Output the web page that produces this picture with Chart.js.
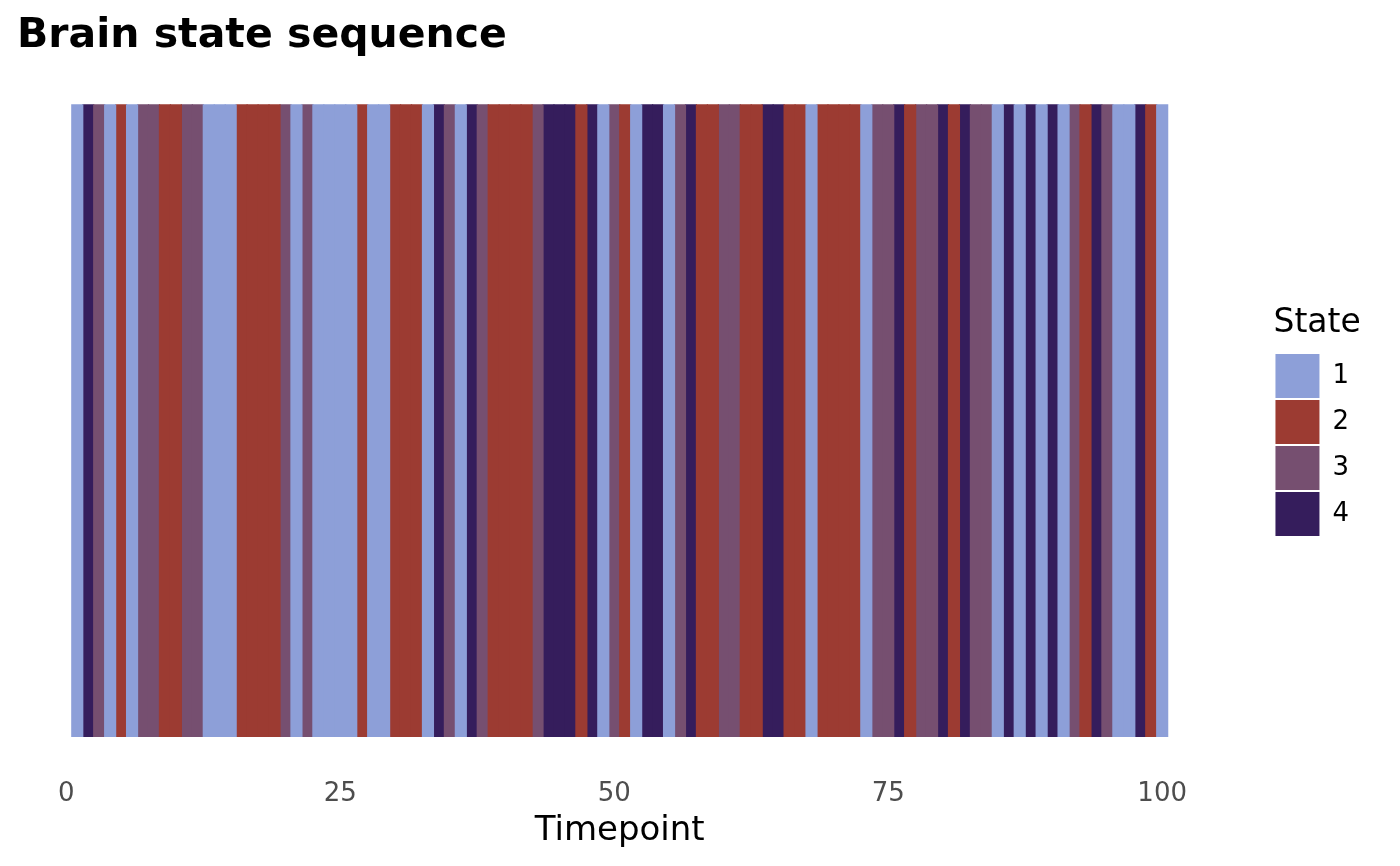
<!DOCTYPE html>
<html>
<head>
<meta charset="utf-8">
<title>Brain state sequence</title>
<script src="https://cdn.jsdelivr.net/npm/chart.js@4/dist/chart.umd.min.js"></script>
<style>
    html, body { margin: 0; padding: 0; background: #ffffff; }
    #wrap { width: 1400px; height: 866px; }
</style>
</head>
<body>
<div id="wrap"><canvas id="chart"></canvas></div>
<script>
// timepoints on the x axis
const timepoints = [
    1, 2, 3, 4, 5, 6, 7, 8, 9, 10, 11, 12, 13, 14, 15, 16, 17, 18, 19, 20,
    21, 22, 23, 24, 25, 26, 27, 28, 29, 30, 31, 32, 33, 34, 35, 36, 37, 38, 39, 40,
    41, 42, 43, 44, 45, 46, 47, 48, 49, 50, 51, 52, 53, 54, 55, 56, 57, 58, 59, 60,
    61, 62, 63, 64, 65, 66, 67, 68, 69, 70, 71, 72, 73, 74, 75, 76, 77, 78, 79, 80,
    81, 82, 83, 84, 85, 86, 87, 88, 89, 90, 91, 92, 93, 94, 95, 96, 97, 98, 99, 100
];

// state at each timepoint
const states = [
    1, 4, 3, 1, 2, 1, 3, 3, 2, 2, 3, 3, 1, 1, 1, 2, 2, 2, 2, 3,
    1, 3, 1, 1, 1, 1, 2, 1, 1, 2, 2, 2, 1, 4, 3, 1, 4, 3, 2, 2,
    2, 2, 3, 4, 4, 4, 2, 4, 1, 3, 2, 1, 4, 4, 1, 3, 4, 2, 2, 3,
    3, 2, 2, 4, 4, 2, 2, 1, 2, 2, 2, 2, 1, 3, 3, 4, 2, 3, 3, 4,
    2, 4, 3, 3, 1, 4, 1, 4, 1, 4, 1, 3, 2, 4, 3, 1, 1, 4, 2, 1
];

const stateLabels = ['1', '2', '3', '4'];
const xTicks = [0, 25, 50, 75, 100];

const stateColors = ['#8D9FD8', '#9C3B32', '#764F70', '#351D5C'];
const fontFamily = "'DejaVu Sans', sans-serif";

window.addEventListener('DOMContentLoaded', function () {
    draw();
});

function draw() {
    const datasets = stateLabels.map(function (label, s) {
        return {
            label: label,
            data: timepoints
                .filter((t, i) => states[i] === s + 1)
                .map(t => ({x: t, y: [0, 1]})),
            backgroundColor: stateColors[s],
            borderWidth: 0,
            barPercentage: 1,
            categoryPercentage: 1,
            inflateAmount: 0.6,   // no hairline seams between tiles
            grouped: false
        };
    });

    new Chart(document.getElementById('chart'), {
        type: 'bar',
        data: {datasets: datasets},
        options: {
            responsive: true,
            maintainAspectRatio: false,
            animation: false,
            layout: {
                padding: {left: 17, right: 41, top: 0, bottom: 0}
            },
            plugins: {
                title: {
                    display: true,
                    text: 'Brain state sequence',
                    align: 'start',
                    color: '#000000',
                    font: {family: fontFamily, size: 41, weight: 'bold'},
                    padding: {top: 12, bottom: 43}
                },
                legend: {
                    position: 'right',
                    align: 'center',
                    fullSize: false,
                    onClick: null,
                    title: {
                        display: true,
                        text: 'State',
                        position: 'start',
                        color: '#000000',
                        font: {family: fontFamily, size: 33},
                        padding: {top: 4, bottom: 5}
                    },
                    labels: {
                        boxWidth: 44,
                        boxHeight: 44,
                        padding: 2,
                        color: '#000000',
                        font: {family: fontFamily, size: 26}
                    }
                },
                tooltip: {enabled: false}
            },
            scales: {
                x: {
                    type: 'linear',
                    min: -4.5,
                    max: 105.5,
                    offset: false,
                    grid: {display: false, drawTicks: false},
                    border: {display: false},
                    afterBuildTicks: function (scale) {
                        scale.ticks = xTicks.map(v => ({value: v}));
                    },
                    ticks: {
                        autoSkip: false,
                        maxRotation: 0,
                        padding: 42,
                        color: '#4D4D4D',
                        font: {family: fontFamily, size: 26}
                    },
                    title: {
                        display: true,
                        text: 'Timepoint',
                        color: '#000000',
                        font: {family: fontFamily, size: 34},
                        // tick padding counts twice in the axis height, the negative top gives it back
                        padding: {top: -41, bottom: 14}
                    }
                },
                y: {
                    position: 'right',
                    min: 0,
                    max: 1,
                    grid: {display: false, drawTicks: false},
                    border: {display: false},
                    ticks: {display: false},
                    // keeps the gap between the tiles and the legend
                    afterFit: function (scale) {
                        scale.width = 51;
                    }
                }
            }
        }
    });
}
</script>
</body>
</html>
